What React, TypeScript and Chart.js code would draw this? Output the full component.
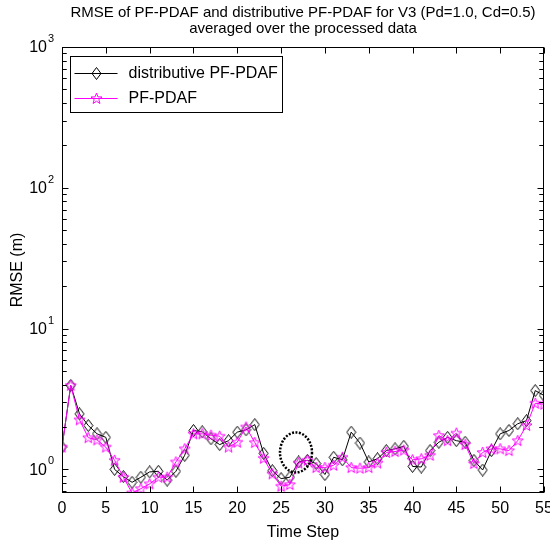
import React, { useEffect, useRef } from 'react';
import { Chart, registerables } from 'chart.js';

Chart.register(...registerables);

const timeSteps = [0,1,2,3,4,5,6,7,8,9,10,11,12,13,14,15,16,17,18,19,20,21,22,23,24,25,26,27,28,29,30,31,32,33,34,35,36,37,38,39,40,41,42,43,44,45,46,47,48,49,50,51,52,53,54,55];

const distributiveRmse = [1.44,3.95,2.48,2.05,1.79,1.69,1.0,0.89,0.81,0.88,0.96,0.97,0.84,0.97,1.26,1.89,1.85,1.65,1.5,1.6,1.84,1.91,2.08,1.3,0.98,0.86,0.88,1.13,1.16,1.1,0.92,1.22,1.17,1.84,1.54,1.13,1.19,1.36,1.4,1.46,1.05,1.04,1.36,1.56,1.69,1.6,1.56,1.16,0.99,1.36,1.79,1.89,2.11,2.22,3.63,3.35];

const pfPdafRmse = [1.44,3.95,2.25,1.68,1.62,1.44,1.16,0.88,0.68,0.73,0.79,0.88,0.88,1.13,1.4,1.79,1.79,1.75,1.72,1.44,1.56,2.0,1.55,1.2,0.93,0.76,0.78,1.11,1.16,1.03,1.03,1.07,1.22,1.03,1.02,1.03,1.11,1.32,1.34,1.37,1.17,1.19,1.26,1.74,1.6,1.81,1.5,1.1,1.32,1.4,1.4,1.36,1.6,2.05,2.95,2.9];

const seriesLabels = ['distributive PF-PDAF', 'PF-PDAF'];
const xTickValues = [0,5,10,15,20,25,30,35,40,45,50,55];
const yDecades = [1, 10, 100, 1000];
const yDecadeExponents = ['0', '1', '2', '3'];
const yMinorMultipliers = [2,3,4,5,6,7,8,9];
const xMin = 0;
const xMax = 55;
const yMin = 0.68;
const yMax = 1000;
const titleLines = [
  'RMSE of PF-PDAF and distributive PF-PDAF for V3 (Pd=1.0, Cd=0.5)',
  'averaged over the processed data',
];
const xAxisLabel = 'Time Step';
const yAxisLabel = 'RMSE (m)';
const circleCenterX = [26.7];
const circleCenterY = [1.32];

const FONT = '"Liberation Sans Narrow", "Liberation Sans", Arial, sans-serif';
const MAGENTA = '#ff00ff';

function makeDiamond(): HTMLCanvasElement {
  const c = document.createElement('canvas');
  c.width = 11; c.height = 13;
  const g = c.getContext('2d')!;
  g.strokeStyle = '#000';
  g.lineWidth = 1;
  g.beginPath();
  g.moveTo(5.5, 0.5);
  g.lineTo(10, 6.5);
  g.lineTo(5.5, 12.5);
  g.lineTo(1, 6.5);
  g.closePath();
  g.stroke();
  return c;
}

function makeStar(): HTMLCanvasElement {
  const c = document.createElement('canvas');
  c.width = 13; c.height = 13;
  const g = c.getContext('2d')!;
  g.strokeStyle = MAGENTA;
  g.lineWidth = 1;
  g.beginPath();
  const cx = 6.5, cy = 6.8, ro = 5.8, ri = 2.4;
  for (let i = 0; i < 10; i++) {
    const r = i % 2 === 0 ? ro : ri;
    const a = -Math.PI / 2 + (i * Math.PI) / 5;
    const px = cx + r * Math.cos(a);
    const py = cy + r * Math.sin(a);
    if (i === 0) g.moveTo(px, py); else g.lineTo(px, py);
  }
  g.closePath();
  g.stroke();
  return c;
}

export default function App() {
  const ref = useRef<HTMLCanvasElement | null>(null);

  useEffect(() => {
    const canvas = ref.current;
    if (!canvas) return;
    const diamond = makeDiamond();
    const star = makeStar();
    const markers = [diamond, star];
    const colors = ['#000000', MAGENTA];

    const framePlugin = {
      id: 'matlabFrame',
      afterDraw(chart: any) {
        const { ctx, chartArea: a, scales } = chart;
        const xs = scales.x;
        const ys = scales.y;
        ctx.save();
        // title
        ctx.fillStyle = '#000';
        ctx.textAlign = 'center';
        ctx.textBaseline = 'middle';
        ctx.font = `15px ${FONT}`;
        const cxm = (a.left + a.right) / 2;
        ctx.fillText(titleLines[0], cxm, 13);
        ctx.fillText(titleLines[1], cxm, 29);

        // frame
        ctx.strokeStyle = '#000';
        ctx.lineWidth = 1;
        const L = Math.round(a.left) + 0.5;
        const R = Math.round(a.right) - 0.5;
        const T = Math.round(a.top) + 0.5;
        const B = Math.round(a.bottom) - 0.5;
        ctx.strokeRect(L, T, R - L, B - T);

        // x ticks (inward, bottom and top)
        ctx.beginPath();
        for (const v of xTickValues) {
          const px = Math.round(xs.getPixelForValue(v)) + 0.5;
          ctx.moveTo(px, B); ctx.lineTo(px, B - 6);
          ctx.moveTo(px, T); ctx.lineTo(px, T + 6);
        }
        // y ticks
        for (const d of yDecades) {
          const py = Math.round(ys.getPixelForValue(d)) + 0.5;
          if (py >= T - 1 && py <= B + 1) {
            ctx.moveTo(L, py); ctx.lineTo(L + 6, py);
            ctx.moveTo(R, py); ctx.lineTo(R - 6, py);
          }
          for (const m of yMinorMultipliers) {
            for (const base of [d / 10, d]) {
              const v = base * m;
              if (v < yMin || v > yMax) continue;
              const pm = Math.round(ys.getPixelForValue(v)) + 0.5;
              ctx.moveTo(L, pm); ctx.lineTo(L + 4, pm);
              ctx.moveTo(R, pm); ctx.lineTo(R - 4, pm);
            }
          }
        }
        ctx.stroke();

        // y tick labels 10^k
        yDecades.forEach((d, i) => {
          const py = ys.getPixelForValue(d);
          ctx.textAlign = 'right';
          ctx.textBaseline = 'middle';
          ctx.font = `16px ${FONT}`;
          ctx.fillText('10', a.left - 15, py + 1);
          ctx.textAlign = 'left';
          ctx.font = `11px ${FONT}`;
          ctx.fillText(yDecadeExponents[i], a.left - 14, py - 8);
        });

        // annotation dotted ellipse
        const ecx = xs.getPixelForValue(circleCenterX[0]);
        const ecy = ys.getPixelForValue(circleCenterY[0]);
        ctx.save();
        ctx.setLineDash([2, 1.5]);
        ctx.lineWidth = 2.5;
        ctx.beginPath();
        ctx.ellipse(ecx, ecy, 16, 20, 0, 0, Math.PI * 2);
        ctx.stroke();
        ctx.restore();

        // legend
        const lx = L + 8, ly = T + 9, lw = 212, lh = 56;
        ctx.fillStyle = '#fff';
        ctx.fillRect(lx, ly, lw, lh);
        ctx.strokeStyle = '#000';
        ctx.lineWidth = 1;
        ctx.strokeRect(lx, ly, lw, lh);
        seriesLabels.forEach((label, i) => {
          const rowY = Math.round(ly + 16 + i * 25) + 0.5;
          ctx.strokeStyle = colors[i];
          ctx.beginPath();
          ctx.moveTo(lx + 4, rowY);
          ctx.lineTo(lx + 47, rowY);
          ctx.stroke();
          const mk = markers[i];
          ctx.drawImage(mk, Math.round(lx + 25.5 - mk.width / 2), Math.round(rowY - mk.height / 2));
          ctx.fillStyle = '#000';
          ctx.textAlign = 'left';
          ctx.textBaseline = 'middle';
          ctx.font = `16px ${FONT}`;
          ctx.fillText(label, lx + 58, rowY);
        });
        ctx.restore();
      },
    };

    const chart = new Chart(canvas, {
      type: 'line',
      data: {
        datasets: [
          {
            label: seriesLabels[0],
            data: timeSteps.map((t, i) => ({ x: t, y: distributiveRmse[i] })),
            borderColor: '#000000',
            backgroundColor: 'transparent',
            borderWidth: 1,
            pointStyle: diamond as any,
            pointRadius: 5,
            tension: 0,
            order: 2,
          },
          {
            label: seriesLabels[1],
            data: timeSteps.map((t, i) => ({ x: t, y: pfPdafRmse[i] })),
            borderColor: MAGENTA,
            backgroundColor: 'transparent',
            borderWidth: 1,
            pointStyle: star as any,
            pointRadius: 5,
            tension: 0,
            order: 1,
          },
        ],
      },
      options: {
        animation: false,
        responsive: false,
        devicePixelRatio: 1,
        layout: { padding: { top: 47, right: 6, left: 0, bottom: 0 } },
        plugins: {
          legend: { display: false },
          title: { display: false },
          tooltip: { enabled: false },
        },
        scales: {
          x: {
            type: 'linear',
            min: xMin,
            max: xMax,
            grid: { display: false, drawTicks: false },
            border: { display: false },
            ticks: {
              stepSize: 5,
              color: '#000',
              font: { family: FONT, size: 16 },
              padding: 6,
              maxRotation: 0,
              autoSkip: false,
            },
            title: {
              display: true,
              text: xAxisLabel,
              color: '#000',
              font: { family: FONT, size: 16 },
              padding: { top: 0, bottom: 4 },
            },
            afterFit: (s: any) => {
              s.height = 53;
              s.paddingLeft = 0;
              s.paddingRight = 0;
            },
          },
          y: {
            type: 'logarithmic',
            min: yMin,
            max: yMax,
            grid: { display: false, drawTicks: false },
            border: { display: false },
            ticks: { display: false },
            title: {
              display: true,
              text: yAxisLabel,
              color: '#000',
              font: { family: FONT, size: 16 },
              padding: { top: 8, bottom: 0 },
            },
            afterFit: (s: any) => {
              s.width = 62;
              s.paddingTop = 0;
              s.paddingBottom = 0;
            },
          },
        },
      },
      plugins: [framePlugin],
    });

    return () => chart.destroy();
  }, []);

  return (
    <div style={{ position: 'absolute', left: 0, top: 0, width: 550, height: 546, background: '#fff' }}>
      <canvas ref={ref} width={550} height={546} />
    </div>
  );
}
